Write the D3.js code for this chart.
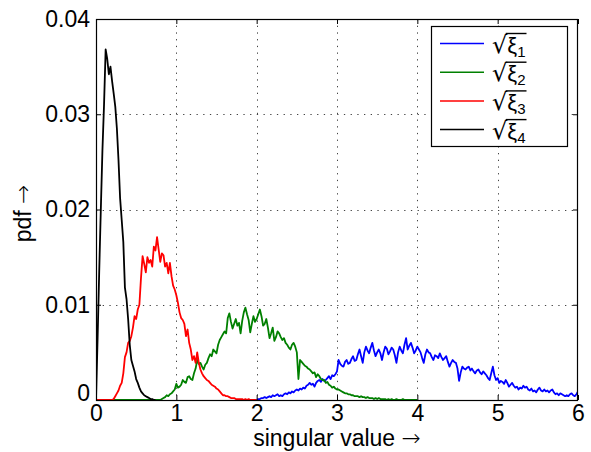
<!DOCTYPE html>
<html><head><meta charset="utf-8">
<script src="https://cdn.jsdelivr.net/npm/d3@7"></script>
<style>
html,body{margin:0;padding:0;background:#fff;}
svg{display:block;font-family:"Liberation Sans",Arial,Helvetica,sans-serif;}
</style></head><body>
<svg id="chart" width="591" height="452"></svg>
<script>
// ---- data ----
const xTicks = [0, 1, 2, 3, 4, 5, 6];
const xTickLabels = ["0", "1", "2", "3", "4", "5", "6"];
const yTicks = [0, 0.01, 0.02, 0.03, 0.04];
const yTickLabels = ["0", "0.01", "0.02", "0.03", "0.04"];
const seriesSubscripts = ["1", "2", "3", "4"];
const seriesColors = ["#0000ff", "#008000", "#ff0000", "#000000"];
const binWidth = 0.02;
const seriesStart = [2.0, 0.2, 0.0, 0.0];

const xi1 = [
0,0.0001,0.0001,0.0002,0.0002,0.0003,0.0002,0.0003,0.0004,0.0003,
0.0005,0.0004,0.0005,0.0006,0.0004,0.0005,0.0004,0.0006,0.0007,0.0006,
0.0008,0.0007,0.0009,0.0008,0.0010,0.0011,0.0010,0.0012,0.0011,0.0013,
0.0012,0.0015,0.0016,0.0018,0.0016,0.0017,0.0014,0.0018,0.0020,0.0021,
0.0019,0.0022,0.0020,0.0021,0.0023,0.0025,0.0022,0.0026,0.0025,0.0027,
0.0030,0.0042,0.0038,0.0036,0.0035,0.0040,0.0042,0.0038,0.0039,0.0043,
0.0046,0.0041,0.0042,0.0048,0.0053,0.0046,0.0039,0.0050,0.0056,0.0052,
0.0049,0.0055,0.0060,0.0052,0.0046,0.0050,0.0053,0.0049,0.0042,0.0050,
0.0056,0.0054,0.0048,0.0051,0.0055,0.0053,0.0047,0.0039,0.0050,0.0056,
0.0052,0.0049,0.0058,0.0065,0.0053,0.0057,0.0060,0.0055,0.0049,0.0052,
0.0056,0.0053,0.0050,0.0044,0.0039,0.0048,0.0053,0.0050,0.0049,0.0045,
0.0042,0.0047,0.0046,0.0044,0.0049,0.0045,0.0042,0.0044,0.0046,0.0040,
0.0035,0.0039,0.0042,0.0040,0.0039,0.0033,0.0020,0.0029,0.0035,0.0033,
0.0032,0.0034,0.0035,0.0031,0.0033,0.0030,0.0028,0.0031,0.0032,0.0029,
0.0027,0.0030,0.0028,0.0026,0.0023,0.0021,0.0028,0.0035,0.0026,0.0021,
0.0023,0.0018,0.0020,0.0019,0.0017,0.0021,0.0018,0.0014,0.0016,0.0018,
0.0015,0.0013,0.0014,0.0011,0.0013,0.0012,0.0015,0.0013,0.0014,0.0011,
0.0010,0.0012,0.0009,0.0010,0.0008,0.0011,0.0013,0.0010,0.0009,0.0011,
0.0009,0.0010,0.0008,0.0010,0.0011,0.0008,0.0006,0.0007,0.0005,0.0007,
0.0006,0.0005,0.0004,0.0005,0.0004,0.0006,0.0007,0.0005,0.0004,0.0006,
0.0009];

const xi2 = [
0,0,0,0,0,0,0,0,0,0,0,0,0,0,0,0,0,0,0,0,0,0,0,0,0,0,0,0,0,0,0,
0.0001,0.0002,0.0003,0.0005,0.0004,0.0006,0.0007,0.0009,0.0011,0.0017,
0.0013,0.0014,0.0016,0.0021,0.0019,0.0018,0.0024,0.0025,0.0022,0.0021,
0.0028,0.0033,0.0042,0.0038,0.0039,0.0035,0.0032,0.0037,0.0039,0.0044,
0.0048,0.0046,0.0053,0.0051,0.0049,0.0058,0.0063,0.0066,0.0069,0.0072,
0.0070,0.0086,0.0091,0.0082,0.0075,0.0080,0.0085,0.0078,0.0081,0.0070,
0.0083,0.0092,0.0097,0.0090,0.0084,0.0071,0.0080,0.0088,0.0082,0.0085,
0.0090,0.0095,0.0088,0.0078,0.0080,0.0085,0.0076,0.0065,0.0070,0.0076,
0.0062,0.0066,0.0072,0.0070,0.0066,0.0063,0.0065,0.0060,0.0058,0.0055,
0.0053,0.0058,0.0060,0.0056,0.0050,0.0022,0.0042,0.0040,0.0038,0.0036,
0.0035,0.0033,0.0032,0.0030,0.0028,0.0029,0.0024,0.0027,0.0025,0.0022,
0.0021,0.0021,0.0018,0.0019,0.0016,0.0015,0.0013,0.0014,0.0012,0.0011,
0.0011,0.0010,0.0009,0.0008,0.0007,0.0007,0.0006,0.0006,0.0005,0.0005,
0.0004,0.0004,0.0004,0.0003,0.0004,0.0003,0.0003,0.0002,0.0003,0.0002,
0.0002,0.0002,0.0001,0.0002,0.0001,0.0002,0.0001,0.0001,0.0001,0.0001,
0,0.0001,0,0.0001,0,0,0.0001,0,0,0,
0.0001,0,0,0,0,0,0,0,0,0];

const xi3 = [
0,0,0,0,0,0,0,0,0,0,0,
0.0001,0.0004,0.0007,0.0010,0.0015,0.0018,0.0028,0.0045,0.0050,0.0060,
0.0062,0.0067,0.0076,0.0088,0.0085,0.0095,0.0100,0.0128,0.0151,0.0143,
0.0134,0.0150,0.0144,0.0147,0.0140,0.0161,0.0157,0.0171,0.0158,0.0145,
0.0154,0.0152,0.0140,0.0144,0.0133,0.0144,0.0130,0.0120,0.0116,0.0110,
0.0102,0.0092,0.0086,0.0084,0.0080,0.0067,0.0074,0.0060,0.0053,0.0042,
0.0046,0.0039,0.0050,0.0039,0.0032,0.0028,0.0025,0.0023,0.0021,0.0020,
0.0018,0.0016,0.0015,0.0014,0.0012,0.0011,0.0009,0.0007,0.0005,0.0005,
0.0004,0.0004,0.0003,0.0002,0.0002,0.0002,0.0001,0.0001,0.0001,0.0001,
0.0001,0,0.0001,0,0.0001,0,0,0,0,0];

const xi4 = [
0,0.0065,0.0135,0.0200,0.0262,0.0310,0.0368,0.0358,0.0342,0.0350,
0.0335,0.0322,0.0308,0.0285,0.0252,0.0212,0.0189,0.0166,0.0118,0.0106,
0.0085,0.0058,0.0042,0.0036,0.0030,0.0022,0.0018,0.0013,0.0009,0.0007,
0.0005,0.0004,0.0003,0.0002,0.0001,0.0001,0,0];

const seriesValues = [xi1, xi2, xi3, xi4];

// ---- layout ----
const svg = d3.select("#chart");
const plot = {left: 96, right: 578, top: 19, bottom: 400};
const x = d3.scaleLinear().domain([0, 6]).range([plot.left, plot.right]);
const y = d3.scaleLinear().domain([0, 0.04]).range([plot.bottom, plot.top]);
const FS = 23;

svg.append("rect").attr("x", 0).attr("y", 0).attr("width", 591).attr("height", 452).attr("fill", "#fff");

// grid
const grid = svg.append("g").attr("stroke", "#444").attr("stroke-width", 1).attr("stroke-dasharray", "1.3,5.4");
grid.selectAll("line.vx").data(xTicks.slice(1, -1)).join("line")
  .attr("x1", d => Math.round(x(d)) + 0.5).attr("x2", d => Math.round(x(d)) + 0.5)
  .attr("y1", plot.top).attr("y2", plot.bottom);
grid.selectAll("line.hy").data(yTicks.slice(1, -1)).join("line")
  .attr("y1", d => Math.round(y(d)) + 0.5).attr("y2", d => Math.round(y(d)) + 0.5)
  .attr("x1", plot.left).attr("x2", plot.right);

// data lines
svg.append("clipPath").attr("id", "clip").append("rect")
  .attr("x", plot.left).attr("y", plot.top).attr("width", plot.right - plot.left).attr("height", plot.bottom - plot.top);
const lines = svg.append("g").attr("clip-path", "url(#clip)");
seriesValues.forEach((vals, k) => {
  const line = d3.line().x((d, i) => x(seriesStart[k] + i * binWidth)).y(d => y(d));
  lines.append("path").datum(vals).attr("d", line)
    .attr("fill", "none").attr("stroke", seriesColors[k]).attr("stroke-width", 1.8)
    .attr("stroke-linejoin", "round");
});

// axes (inward ticks, box)
function styleAxis(g) {
  g.select(".domain").remove();
  g.selectAll(".tick line").attr("stroke", "#000");
  g.selectAll("text").attr("font-size", FS).attr("font-family", "Liberation Sans, Arial, sans-serif").attr("fill", "#000");
}
const xb = svg.append("g").attr("transform", `translate(0,${plot.bottom})`)
  .call(d3.axisBottom(x).tickValues(xTicks).tickFormat((d, i) => xTickLabels[i]).tickSize(-5).tickPadding(5));
styleAxis(xb);
const xt = svg.append("g").attr("transform", `translate(0,${plot.top})`)
  .call(d3.axisTop(x).tickValues(xTicks).tickFormat("").tickSize(-5));
styleAxis(xt);
const yl = svg.append("g").attr("transform", `translate(${plot.left},0)`)
  .call(d3.axisLeft(y).tickValues(yTicks).tickFormat((d, i) => yTickLabels[i]).tickSize(-5).tickPadding(6));
styleAxis(yl);
yl.selectAll(".tick text").filter(d => d === 0).attr("y", -7);
const yr = svg.append("g").attr("transform", `translate(${plot.right},0)`)
  .call(d3.axisRight(y).tickValues(yTicks).tickFormat("").tickSize(-5));
styleAxis(yr);

svg.append("rect").attr("x", plot.left + 0.5).attr("y", plot.top + 0.5)
  .attr("width", plot.right - plot.left - 1).attr("height", plot.bottom - plot.top)
  .attr("fill", "none").attr("stroke", "#000").attr("stroke-width", 1.2);

// axis labels
const xl = svg.append("text").attr("x", (plot.left + plot.right) / 2).attr("y", 446)
  .attr("text-anchor", "middle").attr("font-size", FS);
xl.append("tspan").text("singular value ");
xl.append("tspan").attr("font-family", "DejaVu Sans").attr("font-weight", 200).attr("font-size", 23).text("\u2192");
const ylab = svg.append("text").attr("transform", `translate(31,${(plot.top + plot.bottom) / 2 + 4}) rotate(-90)`)
  .attr("text-anchor", "middle").attr("font-size", FS);
ylab.append("tspan").text("pdf ");
ylab.append("tspan").attr("font-family", "DejaVu Sans").attr("font-weight", 200).attr("font-size", 23).text("\u2192");

// legend
const leg = svg.append("g");
leg.append("rect").attr("x", 431.5).attr("y", 26.5).attr("width", 136).attr("height", 120)
  .attr("fill", "#fff").attr("stroke", "#000").attr("stroke-width", 1.2);
seriesColors.forEach((c, k) => {
  const ly = 43.5 + k * 28.7;
  leg.append("line").attr("x1", 440).attr("x2", 484).attr("y1", ly).attr("y2", ly)
    .attr("stroke", c).attr("stroke-width", 1.5);
  const t = leg.append("text").attr("x", 492).attr("y", ly + 9).attr("font-size", 22);
  t.append("tspan").attr("font-family", "DejaVu Sans").attr("font-size", 24).text("\u221A");
  t.append("tspan").text("\u03BE");
  t.append("tspan").attr("font-size", 15).attr("dy", 4).text(seriesSubscripts[k]);
  const node = t.node();
  const sq = node.getSubStringLength(0, 1);
  const bb = node.getBBox();
  leg.append("line").attr("x1", 492 + sq - 1.5).attr("x2", bb.x + bb.width + 1)
    .attr("y1", ly - 10).attr("y2", ly - 10).attr("stroke", "#000").attr("stroke-width", 1.4);
});
</script>
</body></html>
